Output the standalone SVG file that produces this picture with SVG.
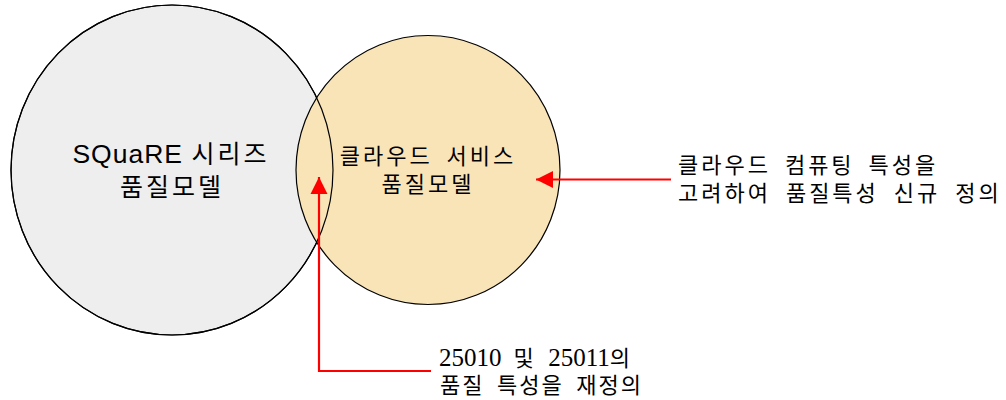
<svg xmlns="http://www.w3.org/2000/svg" width="1006" height="400" viewBox="0 0 1006 400">
<style>
.ring{stroke:#000;stroke-width:1.2}
.sans{font-family:"Noto Sans CJK KR","Liberation Sans",sans-serif;fill:#000}
.serif{font-family:"Liberation Serif","Noto Sans CJK KR",serif;fill:#000}
.conn{fill:none;stroke:#ff0000;stroke-width:2.2}
</style>
<defs>
<marker id="ah" markerUnits="userSpaceOnUse" markerWidth="18" markerHeight="18" viewBox="0 0 18 18" refX="17" refY="9" orient="auto">
<path d="M0,0.5 L17,9 L0,17.5 Z" fill="#ff0000"/>
</marker>
</defs>
<rect width="1006" height="400" fill="#ffffff"/>
<g id="node-squre">
<ellipse cx="172" cy="170" rx="161" ry="165" fill="#eeeeee" class="ring"/>
</g>
<g id="node-cloud">
<ellipse cx="428" cy="170" rx="132" ry="134.5" fill="#f9e4b8" class="ring"/>
</g>
<ellipse cx="172" cy="170" rx="161" ry="165" fill="none" class="ring"/>
<g id="label-squre" class="sans" text-anchor="middle">
<text x="171" y="163" font-size="25" letter-spacing="3"><tspan font-family="Liberation Sans" font-size="26.5" letter-spacing="1">SQuaRE</tspan> 시리즈</text>
<text x="172" y="196" font-size="25" letter-spacing="3">품질모델</text>
</g>
<g id="label-cloud" class="sans" text-anchor="middle">
<text x="428" y="164" font-size="22" letter-spacing="3" word-spacing="6">클라우드 서비스</text>
<text x="428" y="192" font-size="22" letter-spacing="3">품질모델</text>
</g>
<g id="label-new" class="sans">
<text x="678" y="173" font-size="22" letter-spacing="3" word-spacing="6">클라우드 컴퓨팅 특성을</text>
<text x="678" y="201" font-size="22" letter-spacing="3" word-spacing="7">고려하여 품질특성 신규 정의</text>
</g>
<g id="label-redef" class="serif">
<text x="439" y="366" font-size="22" letter-spacing="2.5" word-spacing="4"><tspan font-size="25" letter-spacing="0">25010</tspan> 및 <tspan font-size="25" letter-spacing="0">25011</tspan>의</text>
<text x="440" y="393" font-size="22" letter-spacing="2" word-spacing="5">품질 특성을 재정의</text>
</g>
<g id="connectors">
<path class="conn" d="M431,371 H319 V177" marker-end="url(#ah)"/>
<path class="conn" d="M671,179.5 H536" marker-end="url(#ah)"/>
</g>
</svg>
